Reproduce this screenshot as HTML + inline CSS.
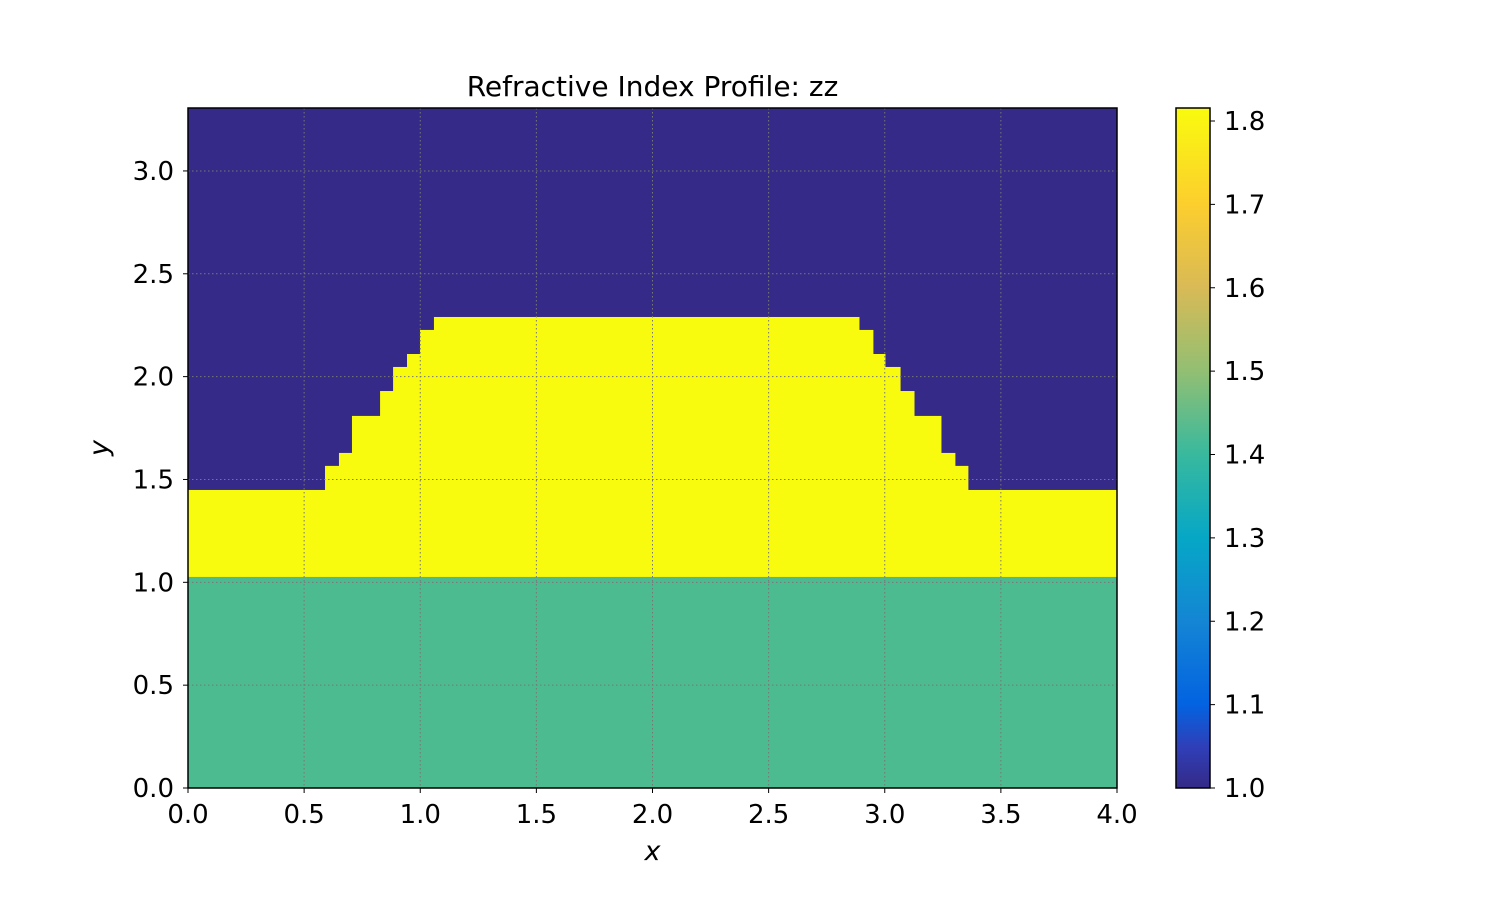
<!DOCTYPE html>
<html><head><meta charset="utf-8"><style>
body{margin:0;background:#fff;}
svg text{font-family:"DejaVu Sans","Liberation Sans",sans-serif;fill:#000;}
</style></head><body>
<svg id="chart" width="1500" height="900" xmlns="http://www.w3.org/2000/svg">
<defs>
<linearGradient id="cmap" x1="0" y1="1" x2="0" y2="0">
<stop offset="0" stop-color="#352a87"/>
<stop offset="0.06" stop-color="#2f3fb8"/>
<stop offset="0.123" stop-color="#0363e1"/>
<stop offset="0.245" stop-color="#1485d4"/>
<stop offset="0.368" stop-color="#06a7c6"/>
<stop offset="0.49" stop-color="#38b99e"/>
<stop offset="0.613" stop-color="#92bf73"/>
<stop offset="0.736" stop-color="#d9ba56"/>
<stop offset="0.858" stop-color="#fcce2e"/>
<stop offset="1" stop-color="#f9fb0e"/>
</linearGradient>
</defs>
</svg>
<script>
const xTicks=[0,0.5,1,1.5,2,2.5,3,3.5,4];
const yTicks=[0,0.5,1,1.5,2,2.5,3];
const cbTicks=[1.0,1.1,1.2,1.3,1.4,1.5,1.6,1.7,1.8];
const substrateTop=1.026;
const slabTop=1.449;
const stepX=[0.590,0.650,0.706,0.827,0.883,0.943,0.999,1.059,2.889,2.949,3.001,3.066,3.126,3.242,3.302,3.358];
const stepY=[1.566,1.629,1.809,1.930,2.047,2.110,2.227,2.290,2.227,2.110,2.047,1.930,1.809,1.629,1.566];
const indexValues=[1.0,1.44,1.8];
const colors=['#352a87','#4cbb8f','#f9fb0e'];
const X0=188,X1=1117,Y0=788,Y1=108,xMax=4,yMax=3.306;
const cbMin=1.0,cbMax=1.8156;
const sx=v=>X0+(X1-X0)*v/xMax;
const sy=v=>Y0-(Y0-Y1)*v/yMax;
const cy=v=>788-680*(v-cbMin)/(cbMax-cbMin);
const svg=document.getElementById('chart');
const NS='http://www.w3.org/2000/svg';
function mk(tag,attrs,parent){const e=document.createElementNS(NS,tag);for(const k in attrs)e.setAttribute(k,attrs[k]);(parent||svg).appendChild(e);return e;}
let e;
e=mk('rect',{x:X0,y:Y1,width:X1-X0,height:Y0-Y1,fill:colors[0]});


e=mk('rect',{x:X0,y:sy(substrateTop),width:X1-X0,height:Y0-sy(substrateTop),fill:colors[1]});


e=mk('rect',{x:X0,y:sy(slabTop),width:X1-X0,height:sy(substrateTop)-sy(slabTop),fill:colors[2]});


for(let i=0;i<stepY.length;i++){
  e=mk('rect',{x:sx(stepX[i]),y:sy(stepY[i]),width:sx(stepX[i+1])-sx(stepX[i])+0.5,height:sy(slabTop)-sy(stepY[i])+0.5,fill:colors[2]});
  
  
}
xTicks.forEach(t=>{
  e=mk('line',{x1:sx(t),x2:sx(t),y1:Y1,y2:Y0,stroke:'#777','stroke-width':1,'stroke-dasharray':'1.5,2.5'});
  
  
  e=mk('line',{x1:sx(t),x2:sx(t),y1:Y0,y2:Y0+5,stroke:'#000','stroke-width':1});
  
  
  e=mk('text',{x:sx(t),y:Y0+35,'font-size':26,'text-anchor':'middle'});
  e.textContent=t.toFixed(1);
  
  
});
yTicks.forEach(t=>{
  e=mk('line',{x1:X0,x2:X1,y1:sy(t),y2:sy(t),stroke:'#777','stroke-width':1,'stroke-dasharray':'1.5,2.5'});
  
  
  e=mk('line',{x1:X0-5,x2:X0,y1:sy(t),y2:sy(t),stroke:'#000','stroke-width':1});
  
  
  e=mk('text',{x:X0-14,y:sy(t)+9,'font-size':26,'text-anchor':'end'});
  e.textContent=t.toFixed(1);
  
  
});
e=mk('rect',{x:X0,y:Y1,width:X1-X0,height:Y0-Y1,fill:'none',stroke:'#000','stroke-width':1.5});


e=mk('text',{x:(X0+X1)/2,y:96,'font-size':28,'text-anchor':'middle'});
e.textContent='Refractive Index Profile: zz';


e=mk('text',{x:(X0+X1)/2,y:860,'font-size':27,'text-anchor':'middle','font-style':'italic'});
e.textContent='x';


e=mk('text',{x:108,y:448,'font-size':27,'text-anchor':'middle','font-style':'italic',transform:'rotate(-90 108 448)'});
e.textContent='y';


e=mk('rect',{x:1176,y:108,width:34,height:680,fill:'url(#cmap)',stroke:'#000','stroke-width':1.5});


cbTicks.forEach(t=>{
  e=mk('line',{x1:1210,x2:1215,y1:cy(t),y2:cy(t),stroke:'#000','stroke-width':1});
  
  
  e=mk('text',{x:1224,y:cy(t)+9,'font-size':26});
  e.textContent=t.toFixed(1);
  
  
});
</script>
</body></html>
